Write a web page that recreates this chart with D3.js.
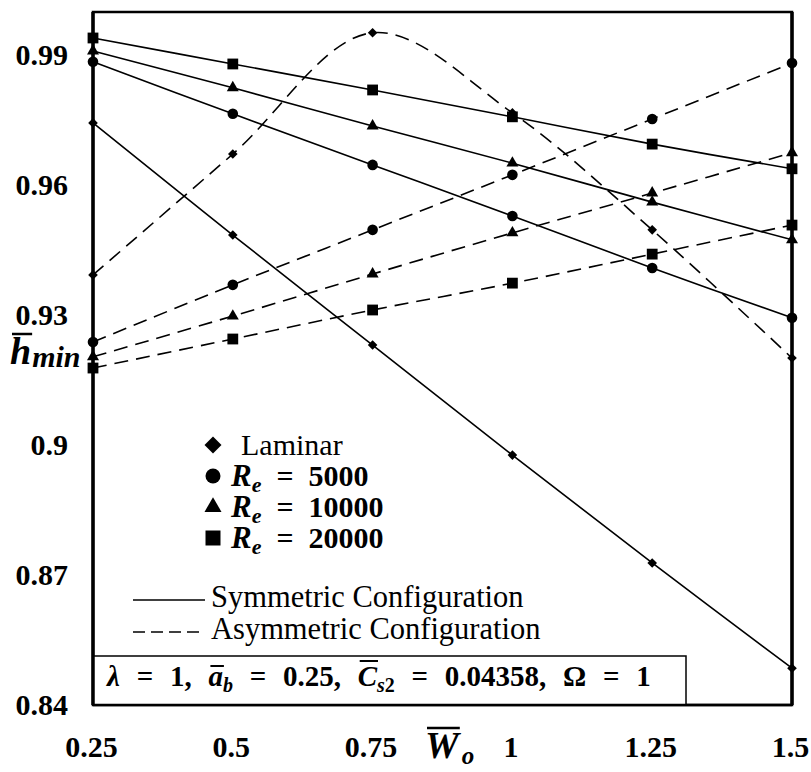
<!DOCTYPE html>
<html>
<head>
<meta charset="utf-8">
<script src="https://cdn.jsdelivr.net/npm/d3@7"></script>
<style>
  body { margin: 0; background: #fff; }
</style>
</head>
<body>
<div id="chart"></div>
<script>
// x values (W_o) and tick labels
const wo = [0.25, 0.5, 0.75, 1, 1.25, 1.5];
const xTicks = [0.25, 0.5, 0.75, 1, 1.25, 1.5];
const yTicks = [0.84, 0.87, 0.9, 0.93, 0.96, 0.99];

// h_min, symmetric configuration (solid)
const laminarSym = [0.9744, 0.9485, 0.9231, 0.8977, 0.8728, 0.8485];
const re5000Sym  = [0.9885, 0.9765, 0.9647, 0.9529, 0.9409, 0.9294];
const re10000Sym = [0.9910, 0.9825, 0.9737, 0.9651, 0.9561, 0.9474];
const re20000Sym = [0.9940, 0.9880, 0.9820, 0.9758, 0.9695, 0.9638];

// h_min, asymmetric configuration (dashed)
const laminarAsym = [0.9393, 0.9672, 0.9952, 0.9767, 0.9497, 0.9201];
const re5000Asym  = [0.9238, 0.9370, 0.9497, 0.9624, 0.9753, 0.9882];
const re10000Asym = [0.9204, 0.9298, 0.9395, 0.9490, 0.9582, 0.9675];
const re20000Asym = [0.9178, 0.9245, 0.9312, 0.9374, 0.9441, 0.9508];

const legendRe = ["5000", "10000", "20000"];

const series = [
  {shape: "diamond", dashed: false, values: laminarSym},
  {shape: "circle", dashed: false, values: re5000Sym},
  {shape: "triangle", dashed: false, values: re10000Sym},
  {shape: "square", dashed: false, values: re20000Sym},
  {shape: "diamond", dashed: true, values: laminarAsym},
  {shape: "circle", dashed: true, values: re5000Asym},
  {shape: "triangle", dashed: true, values: re10000Asym},
  {shape: "square", dashed: true, values: re20000Asym}
];

let width = 811, height = 772;
let mLeft = 93, mRight = 792, mTop = 12, mBottom = 705;
let serif = "'Liberation Serif'";

let svg = d3.select("#chart").append("svg")
  .attr("width", width)
  .attr("height", height);

let x = d3.scaleLinear().domain([0.25, 1.5]).range([mLeft, mRight]);
let y = d3.scaleLinear().domain([0.84, 1.0]).range([mBottom, mTop]);

// marker shapes
function shapePath(shape, s) {
  if (shape == "circle") {
    return d3.symbol(d3.symbolCircle, Math.PI * s * s)();
  }
  if (shape == "square") {
    return "M" + (-s) + "," + (-s) + "H" + s + "V" + s + "H" + (-s) + "Z";
  }
  if (shape == "triangle") {
    let h = s * Math.sqrt(3);
    return "M0," + (-h * 2 / 3) + "L" + s + "," + (h / 3) + "L" + (-s) + "," + (h / 3) + "Z";
  }
  // diamond
  return "M0," + (-s) + "L" + s + ",0L0," + s + "L" + (-s) + ",0Z";
}

let markerSize = {circle: 5.3, square: 5.4, triangle: 6, diamond: 4.8};

let line = d3.line()
  .x((d, i) => x(wo[i]))
  .y(d => y(d))
  .curve(d3.curveCatmullRom.alpha(0.5));

series.forEach(function(s) {
  svg.append("path")
    .attr("d", line(s.values))
    .attr("fill", "none")
    .attr("stroke", "#000")
    .attr("stroke-width", 1.6)
    .attr("stroke-dasharray", s.dashed ? "14,8" : null);

  svg.append("g").selectAll("path")
    .data(s.values)
    .join("path")
    .attr("transform", (d, i) => "translate(" + x(wo[i]) + "," + y(d) + ")")
    .attr("d", shapePath(s.shape, markerSize[s.shape]))
    .attr("fill", "#000");
});

// frame
svg.append("rect")
  .attr("x", mLeft).attr("y", mTop)
  .attr("width", mRight - mLeft).attr("height", mBottom - mTop)
  .attr("fill", "none")
  .attr("stroke", "#000")
  .attr("stroke-width", 2.5);
svg.append("line").attr("x1", mRight).attr("x2", mRight).attr("y1", mTop).attr("y2", mBottom)
  .attr("stroke", "#000").attr("stroke-width", 3.5);

// axes (labels only, frame drawn separately)
let xAxis = svg.append("g")
  .attr("transform", "translate(0," + mBottom + ")")
  .call(d3.axisBottom(x).tickValues(xTicks).tickSize(0).tickPadding(31)
    .tickFormat(d => String(d)));
let yAxis = svg.append("g")
  .attr("transform", "translate(" + mLeft + ",0)")
  .call(d3.axisLeft(y).tickValues(yTicks).tickSize(0).tickPadding(25)
    .tickFormat(d => String(d)));

[xAxis, yAxis].forEach(function(a) {
  a.attr("font-family", null);
  a.select(".domain").remove();
  a.selectAll("text")
    .style("font-family", serif)
    .attr("font-weight", "bold")
    .attr("font-size", 30)
    .attr("fill", "#000");
});
xAxis.selectAll("text").attr("dx", -2);

// helper: overline over one character of a text element
function overline(textSel, index, dy, w) {
  let box = textSel.node().getExtentOfChar(index);
  svg.append("line")
    .attr("x1", box.x + 2).attr("x2", box.x + box.width + 1)
    .attr("y1", box.y + dy).attr("y2", box.y + dy)
    .attr("stroke", "#000").attr("stroke-width", w || 2);
}

// y-axis title
let yTitle = svg.append("text")
  .attr("x", 10).attr("y", 364)
  .style("font-family", serif)
  .attr("font-weight", "bold").attr("font-style", "italic");
yTitle.append("tspan").attr("font-size", 38).text("h");
yTitle.append("tspan").attr("font-size", 30).attr("dy", 3).attr("dx", 1).text("min");
overline(yTitle, 0, 4, 2.5);

// x-axis title
let xTitle = svg.append("text")
  .attr("x", 425).attr("y", 758)
  .style("font-family", serif)
  .attr("font-weight", "bold").attr("font-style", "italic");
xTitle.append("tspan").attr("font-size", 38).text("W");
xTitle.append("tspan").attr("font-size", 25).attr("dy", 6).attr("dx", 3).text("o");
overline(xTitle, 0, 4, 2.5);

// legend: markers
let legendShapes = ["diamond", "circle", "triangle", "square"];
let legendY = [445, 476, 507, 538];
let legendSize = {diamond: 8.5, circle: 7.5, triangle: 8.5, square: 7.5};
legendShapes.forEach(function(sh, i) {
  svg.append("path")
    .attr("transform", "translate(213," + legendY[i] + ")")
    .attr("d", shapePath(sh, legendSize[sh]))
    .attr("fill", "#000");
});

svg.append("text")
  .attr("x", 241).attr("y", 455)
  .style("font-family", serif)
  .attr("font-size", 30)
  .text("Laminar");

legendRe.forEach(function(v, i) {
  let t = svg.append("text")
    .attr("x", 231).attr("y", legendY[i + 1] + 10)
    .style("font-family", serif)
    .attr("font-weight", "bold")
    .attr("font-size", 30);
  t.append("tspan").attr("font-style", "italic").attr("font-size", 31).text("R");
  t.append("tspan").attr("font-style", "italic").attr("font-size", 22).attr("dy", 6).text("e");
  t.append("tspan").attr("dy", -6).attr("dx", 15).text("=");
  t.append("tspan").attr("dx", 15).text(v);
});

// legend: line styles
svg.append("line")
  .attr("x1", 133).attr("x2", 205).attr("y1", 600).attr("y2", 600)
  .attr("stroke", "#000").attr("stroke-width", 1.5);
svg.append("line")
  .attr("x1", 133).attr("x2", 205).attr("y1", 632).attr("y2", 632)
  .attr("stroke", "#000").attr("stroke-width", 1.5)
  .attr("stroke-dasharray", "12,6");
svg.append("text")
  .attr("x", 211).attr("y", 607)
  .style("font-family", serif)
  .attr("font-size", 30.5)
  .text("Symmetric Configuration");
svg.append("text")
  .attr("x", 211).attr("y", 639)
  .style("font-family", serif)
  .attr("font-size", 30.5)
  .text("Asymmetric Configuration");

// parameter box
svg.append("rect")
  .attr("x", mLeft).attr("y", 656)
  .attr("width", 686 - mLeft).attr("height", mBottom - 656)
  .attr("fill", "#fff")
  .attr("stroke", "#000").attr("stroke-width", 1.5);

let info = svg.append("text")
  .attr("x", 107).attr("y", 686)
  .style("font-family", serif)
  .attr("font-weight", "bold")
  .attr("font-size", 29)
  .style("word-spacing", "9.5px");
info.append("tspan").attr("font-style", "italic").text("λ");
info.append("tspan").text(" = 1, ");
info.append("tspan").attr("font-style", "italic").text("a");
info.append("tspan").attr("font-style", "italic").attr("font-size", 20).attr("dy", 6).text("b");
info.append("tspan").attr("dy", -6).text(" = 0.25, ");
info.append("tspan").attr("font-style", "italic").text("C");
info.append("tspan").attr("font-style", "italic").attr("font-size", 20).attr("dy", 6).text("s");
info.append("tspan").attr("font-size", 20).text("2");
info.append("tspan").attr("dy", -6).text(" = 0.04358, Ω = 1");

let infoText = info.text();
overline(info, infoText.indexOf("a"), 6);
overline(info, infoText.indexOf("C"), 1);

// frame bottom/left drawn over the box edge
svg.append("line").attr("x1", mLeft).attr("x2", mRight).attr("y1", mBottom).attr("y2", mBottom)
  .attr("stroke", "#000").attr("stroke-width", 2.5);
svg.append("line").attr("x1", mLeft).attr("x2", mLeft).attr("y1", mTop).attr("y2", mBottom)
  .attr("stroke", "#000").attr("stroke-width", 3.5);
</script>
</body>
</html>
